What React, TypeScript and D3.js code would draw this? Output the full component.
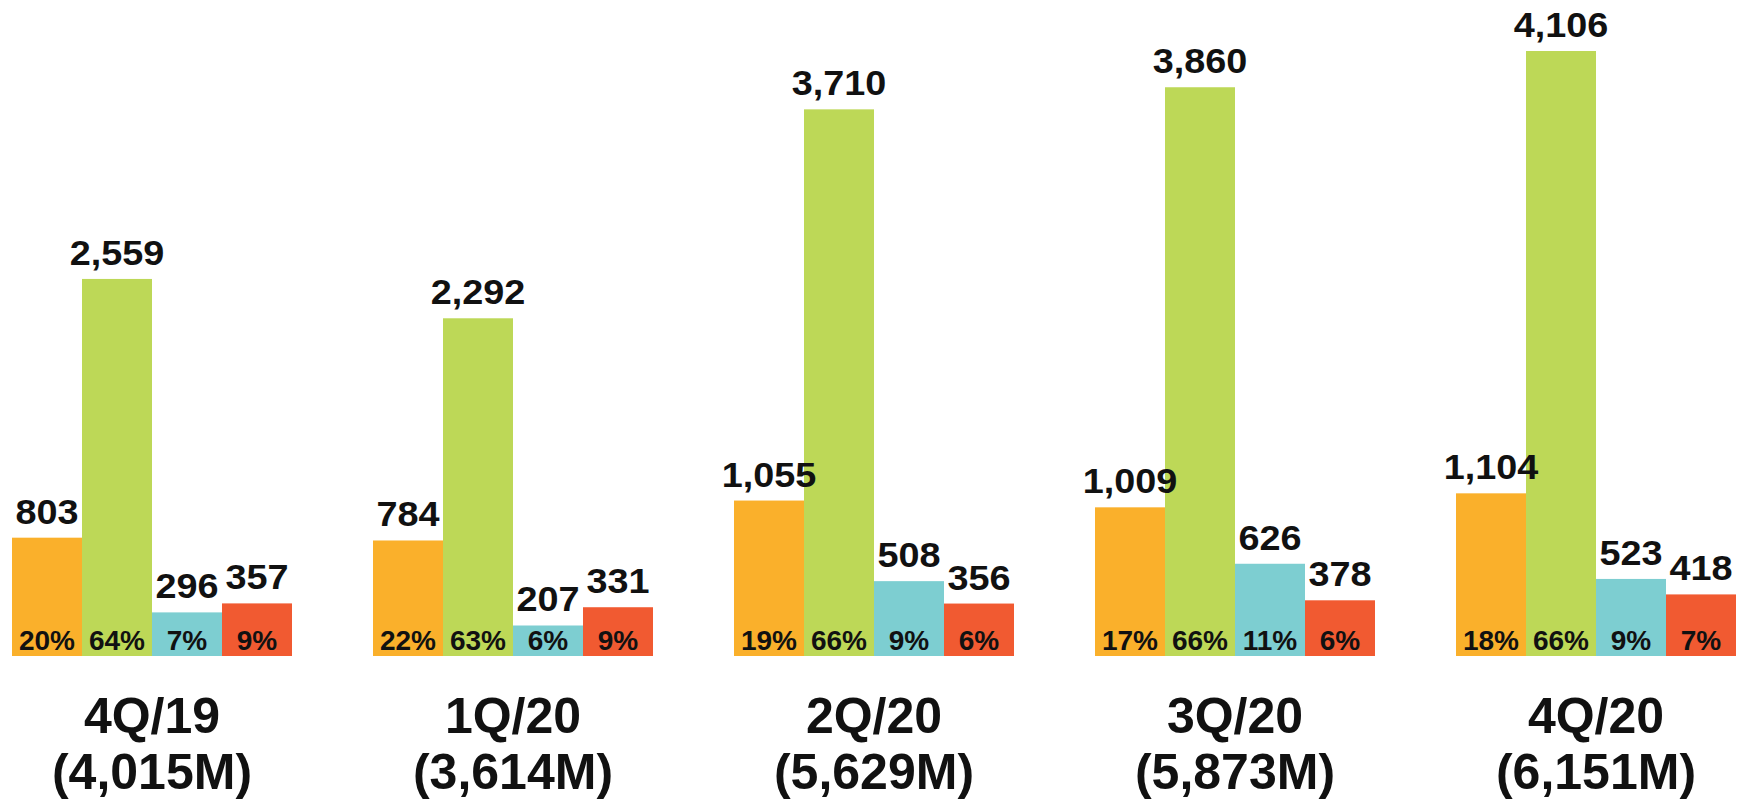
import React from "react";
import * as d3 from "d3";

const categories = ["4Q/19", "1Q/20", "2Q/20", "3Q/20", "4Q/20"];
const totals = ["(4,015M)", "(3,614M)", "(5,629M)", "(5,873M)", "(6,151M)"];
const seriesKeys = ["s1", "s2", "s3", "s4"];
const seriesColors = ["#FAB02B", "#BDD857", "#7DCED1", "#F15A31"];
const s1Values = [803, 784, 1055, 1009, 1104];
const s2Values = [2559, 2292, 3710, 3860, 4106];
const s3Values = [296, 207, 508, 626, 523];
const s4Values = [357, 331, 356, 378, 418];
const s1Pct = [20, 22, 19, 17, 18];
const s2Pct = [64, 63, 66, 66, 66];
const s3Pct = [7, 6, 9, 11, 9];
const s4Pct = [9, 9, 6, 6, 7];

const allValues = [s1Values, s2Values, s3Values, s4Values];
const allPct = [s1Pct, s2Pct, s3Pct, s4Pct];

const W = 1740;
const H = 800;
const FONT = "'Liberation Sans', Arial, Helvetica, sans-serif";

export default function App() {
  const x0 = d3.scaleBand<string>().domain(categories).range([12, 1736]).paddingInner(0.2244).paddingOuter(0);
  const x1 = d3.scaleBand<string>().domain(seriesKeys).range([0, x0.bandwidth()]).padding(0);
  const y = d3.scaleLinear().domain([0, 4106]).range([656, 51]);
  const fmt = d3.format(",");

  return (
    <svg width={W} height={H} style={{ position: "absolute", left: 0, top: 0, background: "#fff" }}>
      {/* bars */}
      {categories.map((c, ci) => (
        <g key={"b" + c} transform={`translate(${x0(c)},0)`}>
          {seriesKeys.map((k, si) => {
            const v = allValues[si][ci];
            const top = y(v);
            return (
              <rect key={k} x={x1(k)!} y={top} width={x1.bandwidth()} height={y(0) - top} fill={seriesColors[si]} />
            );
          })}
        </g>
      ))}
      {/* labels */}
      {categories.map((c, ci) => (
        <g key={"l" + c} transform={`translate(${x0(c)},0)`}>
          {seriesKeys.map((k, si) => {
            const v = allValues[si][ci];
            const bx = x1(k)!;
            const bw = x1.bandwidth();
            const top = y(v);
            return (
              <g key={k}>
                <g transform={`translate(${bx + bw / 2},${top - 14}) scale(1.08,1)`}>
                  <text
                    x={0}
                    y={0}
                    textAnchor="middle"
                    fontFamily={FONT}
                    fontWeight="bold"
                    fontSize={35}
                    fill="#111"
                  >
                    {fmt(v)}
                  </text>
                </g>
                <text
                  x={bx + bw / 2}
                  y={650}
                  textAnchor="middle"
                  fontFamily={FONT}
                  fontWeight="bold"
                  fontSize={28}
                  fill="#111"
                >
                  {allPct[si][ci] + "%"}
                </text>
              </g>
            );
          })}
          <text
            x={x0.bandwidth() / 2}
            y={733}
            textAnchor="middle"
            fontFamily={FONT}
            fontWeight="bold"
            fontSize={50}
            fill="#111"
          >
            {c}
          </text>
          <text
            x={x0.bandwidth() / 2}
            y={789}
            textAnchor="middle"
            fontFamily={FONT}
            fontWeight="bold"
            fontSize={50}
            fill="#111"
          >
            {totals[ci]}
          </text>
        </g>
      ))}
    </svg>
  );
}
